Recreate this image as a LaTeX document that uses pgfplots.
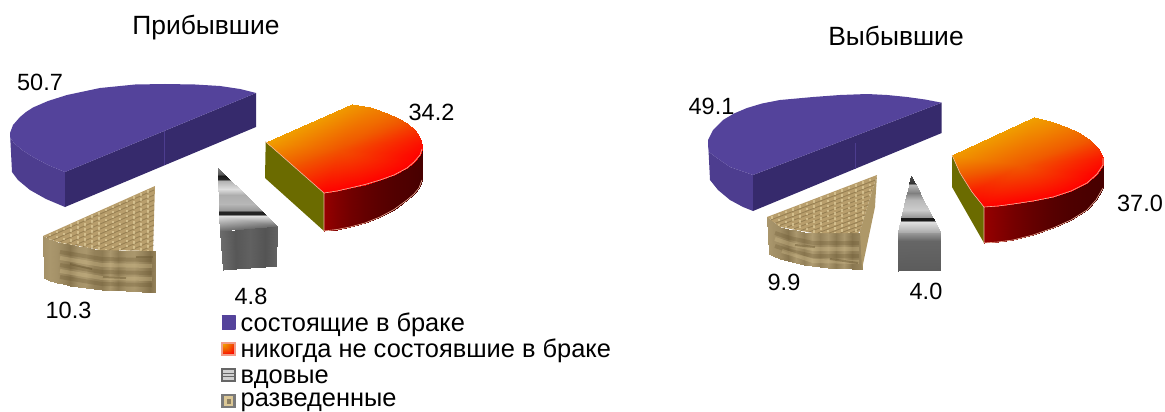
\documentclass[border=0pt]{standalone}
\usepackage{fontspec}
\setmainfont{Liberation Sans}
\usepackage{pgfplots}
\pgfplotsset{compat=1.18}
\definecolor{bluetop}{HTML}{54439B}
\definecolor{blueout}{HTML}{4D3D8F}
\definecolor{bluecut}{HTML}{362A6C}
\definecolor{olive}{HTML}{6B6B00}
\definecolor{rededge}{HTML}{F0B8A0}
\definecolor{tantop}{HTML}{B89E6C}
\definecolor{tanstrip}{HTML}{AE9868}
\definecolor{tandark}{HTML}{66542F}
\definecolor{tanlight}{HTML}{DCC896}
\definecolor{tanpale}{HTML}{E8D6A4}
\pgfplotsset{
  colormap={heat}{rgb255=(240,160,0) rgb255=(240,90,0) rgb255=(255,0,0)},
  colormap={deepred}{rgb255=(70,0,0) rgb255=(150,0,0)},
  colormap={grey}{rgb255=(0,0,0) rgb255=(255,255,255)},
  colormap={tan}{rgb255=(104,86,50) rgb255=(214,194,148)},
  face/.style={draw=none,forget plot},
  grad/.style={patch,shader=interp,point meta=explicit,forget plot},
  rgrad/.style={grad,patch type=rectangle},
  weavea/.style={tandark,line width=.9pt,opacity=.4,forget plot},
  weaveb/.style={tanpale,line width=2pt,opacity=.6,dash pattern=on 2.5pt off 2.5pt,forget plot},
  softd/.style={tandark,line width=4pt,opacity=.28,forget plot},
  softl/.style={tanlight,line width=4pt,opacity=.3,forget plot},
  streak/.style={tandark,line width=2pt,opacity=.45,forget plot},
}
\tikzset{
  lab/.style={overlay,anchor=base,inner sep=0pt,font=\fontsize{23.5}{26}\selectfont},
  ttl/.style={overlay,anchor=base,inner sep=0pt,font=\fontsize{26.4}{30}\selectfont},
  leg/.style={overlay,anchor=base west,inner sep=0pt,font=\fontsize{25.4}{28}\selectfont},
}
\begin{document}
\begin{tikzpicture}
\begin{axis}[
    scale only axis, width=1165pt, height=412pt,
    hide axis,
    xmin=0, xmax=1165, ymin=0, ymax=412,
    y dir=reverse,
    no markers,
    point meta min=0, point meta max=1,
]
% keeps the page at the full size
\addplot[draw=none,forget plot] coordinates {(0,0)(1165,412)};

% ---- left: blue
\addplot[face,fill=blueout] coordinates {(10,133)(12,172)(18,180)(30,190)(46,199)(65,207)(65,172)(48,165)(33,157)(22,150)(14,143)(10,137)};
\addplot[face,fill=bluecut] coordinates {(65,172)(256,93)(256,127)(65,207)};
\addplot[face,fill=bluetop] coordinates {(256,93)(240,89)(220,86)(195,84.5)(165,84)(135,84.5)(100,88)(67,95)(48,101)(33,107.5)(26,112)(20,117)(13,125)(10,133)(10,137)(14,143)(22,150)(33,157)(48,165)(65,172)};
\addplot[color=blueout,line width=.8pt,forget plot] coordinates {(164,131)(164,165)};

% ---- left: orange-red
\addplot[face,fill=olive] coordinates {(265.7,141.7)(324,193)(324,231)(265,178)};
\addplot[rgrad,colormap name=deepred] coordinates {
(324,193)[1] (337,191)[.75] (337,229.5)[.75] (324,231)[1]
(337,191)[.75] (350,188)[.55] (350,227)[.55] (337,229.5)[.75]
(350,188)[.55] (365,184.5)[.38] (365,223)[.38] (350,227)[.55]
(365,184.5)[.38] (380,180)[.25] (380,217)[.25] (365,223)[.38]
(380,180)[.25] (394,175)[.15] (394,209.5)[.15] (380,217)[.25]
(394,175)[.15] (407,168)[.1] (407,200)[.1] (394,209.5)[.15]
(407,168)[.1] (414,162)[.06] (414,194)[.06] (407,200)[.1]
(414,162)[.06] (420,155)[.03] (419,188)[.03] (414,194)[.06]
(420,155)[.03] (422,149)[.03] (422,180)[.03] (419,188)[.03]
};
\addplot[grad,colormap name=heat] coordinates {
(340,150)[.55] (265.7,141.7)[0] (352,104)[.05]
(340,150)[.55] (352,104)[.05] (370,107)[.18]
(340,150)[.55] (370,107)[.18] (387,113)[.32]
(340,150)[.55] (387,113)[.32] (398,118)[.45]
(340,150)[.55] (398,118)[.45] (407,123)[.57]
(340,150)[.55] (407,123)[.57] (415,130)[.72]
(340,150)[.55] (415,130)[.72] (420,138)[.85]
(340,150)[.55] (420,138)[.85] (422,145)[.93]
(340,150)[.55] (422,145)[.93] (422,149)[.96]
(340,150)[.55] (422,149)[.96] (420,155)[1]
(340,150)[.55] (420,155)[1] (414,162)[1]
(340,150)[.55] (414,162)[1] (407,168)[1]
(340,150)[.55] (407,168)[1] (394,175)[1]
(340,150)[.55] (394,175)[1] (380,180)[1]
(340,150)[.55] (380,180)[1] (365,184.5)[1]
(340,150)[.55] (365,184.5)[1] (350,188)[1]
(340,150)[.55] (350,188)[1] (337,191)[1]
(340,150)[.55] (337,191)[1] (324,193)[1]
(340,150)[.55] (324,193)[1] (295,167)[.55]
(340,150)[.55] (295,167)[.55] (265.7,141.7)[0]
};
\addplot[color=rededge,line width=.6pt,forget plot] coordinates {(265.7,141.7)(324,193)(337,191)(350,188)(365,184.5)(380,180)(394,175)(407,168)(414,162)(420,155)(422,149)};
\addplot[color=rededge,line width=.6pt,forget plot] coordinates {(324,193)(324,231)(337,229.5)(350,227)(365,223)(380,217)(394,209.5)(407,200)(414,194)(419,188)(422,180)};

% ---- left: grey
\addplot[rgrad,colormap name=grey] coordinates {
(220,231)[.42] (235,229.5)[.34] (236,268.5)[.34] (223,270)[.42]
(235,229.5)[.34] (250,228)[.38] (250,267.5)[.38] (236,268.5)[.34]
(250,228)[.38] (265,226.5)[.33] (265,267)[.33] (250,267.5)[.38]
(265,226.5)[.33] (277,225.5)[.38] (276,266)[.38] (265,267)[.33]
};
\addplot[rgrad,colormap name=grey] coordinates {
(218,174)[.35] (224.2,174)[.35] (218,168)[.5] (218,168)[.5]
(218.2,176)[.1] (226.3,176)[.1] (224.2,174)[.35] (218,174)[.35]
(218.2,179)[.15] (229.4,179)[.15] (226.3,176)[.1] (218.2,176)[.1]
(218.3,181)[.7] (231.5,181)[.7] (229.4,179)[.15] (218.2,179)[.15]
(218.4,189)[.87] (239.7,189)[.87] (231.5,181)[.7] (218.3,181)[.7]
(218.6,195)[.68] (245.9,195)[.68] (239.7,189)[.87] (218.4,189)[.87]
(218.8,204)[.72] (255.3,204)[.72] (245.9,195)[.68] (218.6,195)[.68]
(219.1,209.5)[.6] (261,209.5)[.6] (255.3,204)[.72] (218.8,204)[.72]
(219.3,211.5)[.14] (263,211.5)[.14] (261,209.5)[.6] (219.1,209.5)[.6]
(219.3,213.5)[.14] (265.1,213.5)[.14] (263,211.5)[.14] (219.3,211.5)[.14]
(219.5,215.5)[.88] (267.2,215.5)[.88] (265.1,213.5)[.14] (219.3,213.5)[.14]
(220,231)[.42] (277,225.5)[.42] (267.2,215.5)[.88] (219.5,215.5)[.88]
};

% ---- left: tan
\addplot[rgrad,colormap name=tan] coordinates {
(43,236)[.55] (50,239)[.6] (50,280.5)[.6] (44,278)[.55]
(50,239)[.6] (57,242)[.55] (57,282.5)[.55] (50,280.5)[.6]
(57,242)[.55] (63,243)[.45] (63,284)[.45] (57,282.5)[.55]
(63,243)[.45] (70,244.4)[.3] (70,285.5)[.3] (63,284)[.45]
(70,244.4)[.3] (78,246)[.55] (78,286.8)[.55] (70,285.5)[.3]
(78,246)[.55] (86,247.4)[.6] (86,287.8)[.6] (78,286.8)[.55]
(86,247.4)[.6] (94,248.9)[.4] (94,288.8)[.4] (86,287.8)[.6]
(94,248.9)[.4] (102,250)[.35] (102,289.5)[.35] (94,288.8)[.4]
(102,250)[.35] (110,250.2)[.6] (110,290)[.6] (102,289.5)[.35]
(110,250.2)[.6] (118,250.3)[.35] (118,290.4)[.35] (110,290)[.6]
(118,250.3)[.35] (126,250.5)[.55] (126,290.8)[.55] (118,290.4)[.35]
(126,250.5)[.55] (134,250.6)[.6] (134,291.2)[.6] (126,290.8)[.55]
(134,250.6)[.6] (142,250.8)[.45] (142,291.6)[.45] (134,291.2)[.6]
(142,250.8)[.45] (150,251)[.25] (150,291.9)[.25] (142,291.6)[.45]
(150,251)[.25] (155,251)[.4] (155,292)[.4] (150,291.9)[.25]
};
\addplot[softd] coordinates {(60,252)(78,255)(102,259)(126,259.5)(152,260)};
\addplot[softl] coordinates {(60,258)(78,261)(102,265)(126,265.5)(152,266)};
\addplot[softd] coordinates {(60,265)(78,268)(102,272)(126,272.5)(152,273)};
\addplot[softl] coordinates {(60,271)(78,274)(102,278)(126,278.5)(152,279)};
\addplot[softd] coordinates {(60,277)(78,280)(102,284)(126,284.5)(152,285)};
\addplot[streak] coordinates {(103,277)(126,278)};
\addplot[streak] coordinates {(136,257)(153,257)};
\addplot[streak] coordinates {(70,264)(92,269)};
\addplot[face,fill=tantop] coordinates {(155,186)(43,236)(57,242)(100,250)(153,251)};
\addplot[weavea] coordinates {(154,190)(47,237.7)};
\addplot[weavea] coordinates {(154,195)(52.7,240.2)};
\addplot[weavea] coordinates {(154,200)(59,242.4)};
\addplot[weavea] coordinates {(154,205)(67,243.8)};
\addplot[weavea] coordinates {(154,210)(74.8,245.3)};
\addplot[weavea] coordinates {(154,215)(82.7,246.8)};
\addplot[weavea] coordinates {(154,220)(90.6,248.3)};
\addplot[weavea] coordinates {(154,225)(98.5,249.7)};
\addplot[weavea] coordinates {(154,230)(108.8,250.2)};
\addplot[weavea] coordinates {(154,235)(119.6,250.3)};
\addplot[weavea] coordinates {(154,240)(130.4,250.5)};
\addplot[weavea] coordinates {(154,245)(141,250.8)};
\addplot[weaveb] coordinates {(50,233.5)(50,239)};
\addplot[weaveb] coordinates {(57,230.5)(57,241.5)};
\addplot[weaveb] coordinates {(64,227.5)(64,243)};
\addplot[weaveb] coordinates {(71,224)(71,244.5)};
\addplot[weaveb] coordinates {(78,221)(78,246)};
\addplot[weaveb] coordinates {(85,218)(85,247)};
\addplot[weaveb] coordinates {(92,215)(92,248.5)};
\addplot[weaveb] coordinates {(99,212)(99,249.5)};
\addplot[weaveb] coordinates {(106,208.5)(106,250)};
\addplot[weaveb] coordinates {(113,205.5)(113,250)};
\addplot[weaveb] coordinates {(120,202.5)(120,250)};
\addplot[weaveb] coordinates {(127,199.5)(127,250)};
\addplot[weaveb] coordinates {(134,196)(134,250.5)};
\addplot[weaveb] coordinates {(141,193)(141,250.5)};
\addplot[weaveb] coordinates {(148,190)(148,250.5)};

% ---- right: blue
\addplot[face,fill=blueout] coordinates {(708,140)(710,180)(718,190)(730,200)(743,207)(753,211)(753,175)(730,167)(717,158)(709,152)(708,146)};
\addplot[face,fill=bluecut] coordinates {(753,175)(941.7,102.7)(941.7,133)(753,211)};
\addplot[face,fill=bluetop] coordinates {(941.7,102.7)(925,99.5)(907,97)(887,95)(867,94)(840,95)(813,97)(780,100)(762,103.5)(747,108)(734,113.5)(723,120)(713,130)(708,140)(708,146)(709,152)(717,158)(730,167)(753,175)};
\addplot[color=blueout,line width=.8pt,forget plot] coordinates {(855.7,143)(855.7,169)};

% ---- right: orange-red
\addplot[face,fill=olive] coordinates {(952,155)(960,173)(972,192)(984,207)(984,243)(952,187)};
\addplot[rgrad,colormap name=deepred] coordinates {
(984,207)[1] (998,206)[.8] (998,242)[.8] (984,243)[1]
(998,206)[.8] (1013,204)[.6] (1013,240)[.6] (998,242)[.8]
(1013,204)[.6] (1033,201)[.38] (1033,235)[.38] (1013,240)[.6]
(1033,201)[.38] (1053,197)[.2] (1053,228)[.2] (1033,235)[.38]
(1053,197)[.2] (1071,191)[.1] (1071,220)[.1] (1053,228)[.2]
(1071,191)[.1] (1087,183)[.05] (1087,210)[.05] (1071,220)[.1]
(1087,183)[.05] (1097,174)[.03] (1096,200)[.03] (1087,210)[.05]
(1097,174)[.03] (1103,165)[.03] (1103,188)[.03] (1096,200)[.03]
};
\addplot[grad,colormap name=heat] coordinates {
(1020,165)[.5] (952,155)[.05] (1034,117)[0]
(1020,165)[.5] (1034,117)[0] (1050,121)[.1]
(1020,165)[.5] (1050,121)[.1] (1067,127)[.25]
(1020,165)[.5] (1067,127)[.25] (1080,133)[.38]
(1020,165)[.5] (1080,133)[.38] (1090,140)[.52]
(1020,165)[.5] (1090,140)[.52] (1098,148)[.7]
(1020,165)[.5] (1098,148)[.7] (1103,158)[.88]
(1020,165)[.5] (1103,158)[.88] (1103,165)[.95]
(1020,165)[.5] (1103,165)[.95] (1097,174)[1]
(1020,165)[.5] (1097,174)[1] (1087,183)[1]
(1020,165)[.5] (1087,183)[1] (1071,191)[1]
(1020,165)[.5] (1071,191)[1] (1053,197)[1]
(1020,165)[.5] (1053,197)[1] (1033,201)[1]
(1020,165)[.5] (1033,201)[1] (1013,204)[1]
(1020,165)[.5] (1013,204)[1] (998,206)[1]
(1020,165)[.5] (998,206)[1] (984,207)[1]
(1020,165)[.5] (984,207)[1] (972,192)[.85]
(1020,165)[.5] (972,192)[.85] (960,173)[.45]
(1020,165)[.5] (960,173)[.45] (952,155)[.05]
};
\addplot[color=rededge,line width=.6pt,forget plot] coordinates {(952,155)(960,173)(972,192)(984,207)(998,206)(1013,204)(1033,201)(1053,197)(1071,191)(1087,183)(1097,174)(1103,165)(1103,158)};
\addplot[color=rededge,line width=.6pt,forget plot] coordinates {(984,207)(984,243)(998,242)(1013,240)(1033,235)(1053,228)(1071,220)(1087,210)(1096,200)(1103,188)};

% ---- right: grey
\addplot[rgrad,colormap name=grey] coordinates {
(897.7,241)[.4] (940,241)[.4] (940,232)[.62] (897.7,232)[.62]
(898,271)[.36] (940,270)[.36] (940,241)[.4] (897.7,241)[.4]
};
\addplot[rgrad,colormap name=grey] coordinates {
(909.3,183)[.2] (914.6,183)[.2] (911,176)[.3] (911,176)[.3]
(908.9,185)[.72] (915.7,185)[.72] (914.6,183)[.2] (909.3,183)[.2]
(907,193)[.5] (919.8,193)[.5] (915.7,185)[.72] (908.9,185)[.72]
(905.3,200)[.72] (923.4,200)[.72] (919.8,193)[.5] (907,193)[.5]
(902.9,210)[.8] (928.6,210)[.8] (923.4,200)[.72] (905.3,200)[.72]
(901.4,216.5)[.6] (932,216.5)[.6] (928.6,210)[.8] (902.9,210)[.8]
(901.1,217.5)[.1] (932.5,217.5)[.1] (932,216.5)[.6] (901.4,216.5)[.6]
(900.7,219.5)[.1] (933.5,219.5)[.1] (932.5,217.5)[.1] (901.1,217.5)[.1]
(900.1,222)[.88] (934.8,222)[.88] (933.5,219.5)[.1] (900.7,219.5)[.1]
(897.7,232)[.68] (940,232)[.68] (934.8,222)[.88] (900.1,222)[.88]
};

% ---- right: tan
\addplot[rgrad,colormap name=tan] coordinates {
(767,217)[.6] (773,222)[.55] (773,256)[.55] (769,254)[.6]
(773,222)[.55] (780,227)[.5] (780,258.5)[.5] (773,256)[.55]
(780,227)[.5] (788,228.5)[.3] (788,261)[.3] (780,258.5)[.5]
(788,228.5)[.3] (796,230)[.6] (796,263)[.6] (788,261)[.3]
(796,230)[.6] (804,231.5)[.4] (804,265)[.4] (796,263)[.6]
(804,231.5)[.4] (812,233)[.65] (812,266)[.65] (804,265)[.4]
(812,233)[.65] (820,233)[.4] (820,267)[.4] (812,266)[.65]
(820,233)[.4] (828,233)[.6] (828,267.7)[.6] (820,267)[.4]
(828,233)[.6] (836,233)[.35] (836,268)[.35] (828,267.7)[.6]
(836,233)[.35] (844,233)[.6] (844,268.3)[.6] (836,268)[.35]
(844,233)[.6] (852,233)[.3] (852,268.6)[.3] (844,268.3)[.6]
(852,233)[.3] (860,233)[.45] (862,269)[.45] (852,268.6)[.3]
};
\addplot[face,fill=tanstrip] coordinates {(877,175)(875.5,198)(875,207)(862,269)(860,231)};
\addplot[softd] coordinates {(775,233)(790,238)(813,243)(859,243)};
\addplot[softl] coordinates {(775,239)(790,244)(813,249)(859,249)};
\addplot[softd] coordinates {(775,246)(790,251)(813,256)(859,256)};
\addplot[softl] coordinates {(782,251)(795,255)(813,261)(859,262)};
\addplot[streak] coordinates {(830,259)(858,263)};
\addplot[streak] coordinates {(795,245)(815,247)};
\addplot[face,fill=tantop] coordinates {(877,175)(767,217)(780,227)(813,233)(858,233)(860,231)};
\addplot[weavea] coordinates {(875.5,180)(770.8,219.9)};
\addplot[weavea] coordinates {(874,185)(775.2,223.3)};
\addplot[weavea] coordinates {(872.4,190)(778.6,225.9)};
\addplot[weavea] coordinates {(871,195)(785,227.9)};
\addplot[weavea] coordinates {(869.4,200)(792.7,229.3)};
\addplot[weavea] coordinates {(868,205)(800.7,230.7)};
\addplot[weavea] coordinates {(866.4,210)(808.5,232.2)};
\addplot[weavea] coordinates {(865,215)(817.8,233)};
\addplot[weavea] coordinates {(863.3,220)(829.3,233)};
\addplot[weavea] coordinates {(861.8,225)(840.5,233)};
\addplot[weavea] coordinates {(860.6,229)(850,233)};
\addplot[weaveb] coordinates {(772,216)(772,220.5)};
\addplot[weaveb] coordinates {(779,213.5)(779,226)};
\addplot[weaveb] coordinates {(786,210.5)(786,227.5)};
\addplot[weaveb] coordinates {(793,208)(793,229)};
\addplot[weaveb] coordinates {(800,205)(800,230)};
\addplot[weaveb] coordinates {(807,202.5)(807,231.5)};
\addplot[weaveb] coordinates {(814,200)(814,232.5)};
\addplot[weaveb] coordinates {(821,197)(821,232.5)};
\addplot[weaveb] coordinates {(828,194.5)(828,232.5)};
\addplot[weaveb] coordinates {(835,192)(835,232.5)};
\addplot[weaveb] coordinates {(842,189)(842,232.5)};
\addplot[weaveb] coordinates {(849,186.5)(849,232.5)};
\addplot[weaveb] coordinates {(856,184)(856,232)};
\addplot[weaveb] coordinates {(863,181)(863,220)};
\addplot[weaveb] coordinates {(870,178.5)(870,197)};

% ---- legend swatches
\addplot[face,fill=bluetop,draw=bluetop,line width=1.5pt,line join=round] coordinates {(221.7,315.7)(234.8,315.7)(234.8,329)(221.7,329)};
\addplot[face,fill=rededge!85!red] coordinates {(221,341.5)(235.5,341.5)(235.5,356)(221,356)};
\addplot[rgrad,colormap name=heat] coordinates {(223.5,353.5)[.85] (233,353.5)[1] (233,344)[.6] (223.5,344)[0]};
\addplot[face,fill=black!60] coordinates {(221,367.5)(235.5,367.5)(235.5,382)(221,382)};
\addplot[face,fill=black!18] coordinates {(223,370)(233.5,370)(233.5,379.5)(223,379.5)};
\addplot[color=black!60,line width=.9pt,forget plot] coordinates {(223,373)(233.5,373)};
\addplot[color=black!60,line width=.9pt,forget plot] coordinates {(223,376.5)(233.5,376.5)};
\addplot[face,fill=black!52] coordinates {(221,393.5)(235.5,393.5)(235.5,408)(221,408)};
\addplot[face,fill=tanlight] coordinates {(223.5,396)(233,396)(233,405.5)(223.5,405.5)};
\addplot[face,fill=tandark!75] coordinates {(227,399)(231,399)(231,403.5)(227,403.5)};

% ---- text
\node[ttl] at (axis cs:206,35) {Прибывшие};
\node[ttl] at (axis cs:896,46) {Выбывшие};
\node[lab] at (axis cs:40,90) {50.7};
\node[lab] at (axis cs:431.5,121) {34.2};
\node[lab] at (axis cs:68.5,318) {10.3};
\node[lab] at (axis cs:251,304) {4.8};
\node[lab] at (axis cs:711.5,114) {49.1};
\node[lab] at (axis cs:1140,211) {37.0};
\node[lab] at (axis cs:784,290) {9.9};
\node[lab] at (axis cs:926,299) {4.0};
\node[leg] at (axis cs:240.5,331) {состоящие в браке};
\node[leg] at (axis cs:240.5,357) {никогда не состоявшие в браке};
\node[leg] at (axis cs:240.5,383) {вдовые};
\node[leg] at (axis cs:240.5,406) {разведенные};
\end{axis}
\end{tikzpicture}
\end{document}
